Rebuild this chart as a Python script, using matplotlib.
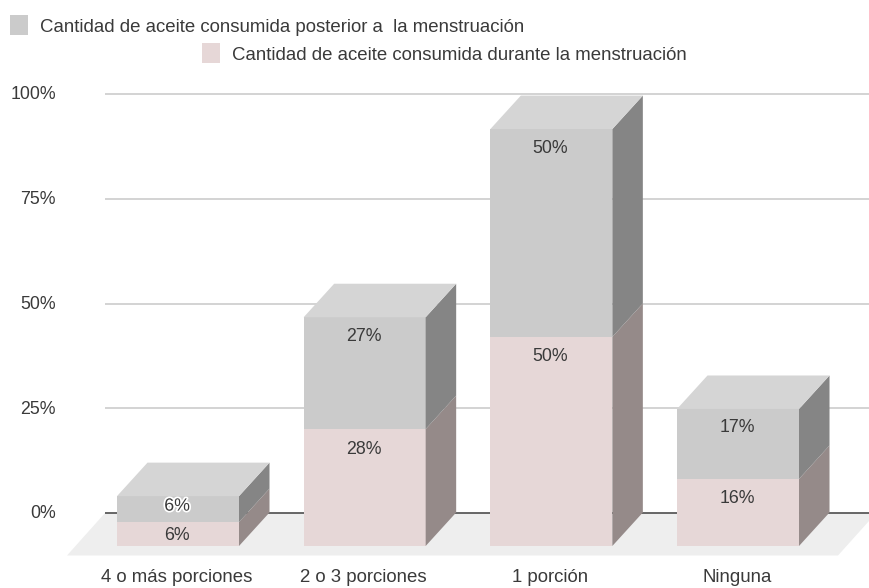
import matplotlib
matplotlib.use('Agg')
import matplotlib.pyplot as plt
import matplotlib.patheffects as pe
from matplotlib.patches import Rectangle

categorias = ['4 o más porciones', '2 o 3 porciones', '1 porción', 'Ninguna']
durante = [5.7, 27.9, 49.9, 16.0]
posterior = [6.2, 26.7, 49.6, 16.7]
ticks = [0, 25, 50, 75, 100]
leyenda_posterior = 'Cantidad de aceite consumida posterior a  la menstruación'
leyenda_durante = 'Cantidad de aceite consumida durante la menstruación'

W, H = 869, 588
PX_X = 186.67      # pixels per category
PX_Y = 4.19        # pixels per percent
X0, Y0 = 178, 546  # pixel of first category centre / front zero

ANCHO = 122 / PX_X
DX = 30.5 / PX_X
DY = 33.5 / PX_Y

GRIS = ('#cbcbcb', '#d5d5d5', '#858585')
ROSA = ('#e6d7d7', '#ecdfdf', '#958a89')
TXT = '#3a3a3a'
FS = 13.4
FS_NUM = 12.8

plt.rcParams['font.family'] = ['Liberation Sans', 'DejaVu Sans']

fig = plt.figure(figsize=(W / 100, H / 100), dpi=100)
ax = fig.add_axes([0, 0, 1, 1])
ax.set_xlim(-X0 / PX_X, (W - X0) / PX_X)
ax.set_ylim((Y0 - H) / PX_Y, Y0 / PX_Y)
ax.axis('off')


def px(x):
    return (x - X0) / PX_X


def py(y):
    return (Y0 - y) / PX_Y


# floor
ax.fill([px(67), px(105), px(W), px(W), px(838)],
        [py(555.5), py(513), py(513), py(521), py(555.5)],
        color='#eeeeee', lw=0, zorder=1)

# grid on the back wall
for t in ticks:
    ax.plot([px(105), px(W)], [t + 33 / PX_Y] * 2,
            color='#5a5a5a' if t == 0 else '#d0d0d0',
            lw=1.3, zorder=1.5, solid_capstyle='butt')
    ax.text(px(56), t + 32 / PX_Y, '%d%%' % t, ha='right', va='center',
            fontsize=FS_NUM, color=TXT)


def caja(i, base, alto, cols):
    izq, der = i - ANCHO / 2, i + ANCHO / 2
    tope = base + alto
    ax.bar(i, alto, ANCHO, bottom=base, color=cols[0], lw=0, zorder=3 + i)
    ax.fill([der, der + DX, der + DX, der], [base, base + DY, tope + DY, tope],
            color=cols[2], lw=0, zorder=3 + i)
    return izq, der, tope


for i in range(len(categorias)):
    caja(i, 0, durante[i], ROSA)
    izq, der, tope = caja(i, durante[i], posterior[i], GRIS)
    # top of the stack
    ax.fill([izq, izq + DX, der + DX, der], [tope, tope + DY, tope + DY, tope],
            color=GRIS[1], lw=0, zorder=3 + i)

    # small segments keep their label closer to the middle
    off_p = 10 / PX_Y if posterior[i] < 10 else 19 / PX_Y
    off_d = 13 / PX_Y if durante[i] < 10 else 20 / PX_Y
    t1 = ax.text(i - 0.005, tope - off_p, '%.0f%%' % posterior[i], ha='center', va='center',
                 fontsize=FS_NUM, color=TXT, zorder=10)
    if posterior[i] < 10:
        t1.set_path_effects([pe.withStroke(linewidth=2.5, foreground='white')])
    ax.text(i - 0.005, durante[i] - off_d, '%.0f%%' % durante[i], ha='center', va='center',
            fontsize=FS_NUM, color=TXT, zorder=10)
    ax.text(i - 0.005, py(577), categorias[i], ha='center', va='center',
            fontsize=FS, color=TXT)

# legend, two centred rows
ax.add_patch(Rectangle((px(10), py(35)), 18 / PX_X, 20 / PX_Y, color=GRIS[0], lw=0))
ax.text(px(40), py(27), leyenda_posterior, ha='left', va='center', fontsize=FS, color=TXT)
ax.add_patch(Rectangle((px(202), py(63)), 18 / PX_X, 20 / PX_Y, color=ROSA[0], lw=0))
ax.text(px(232), py(55), leyenda_durante, ha='left', va='center', fontsize=FS, color=TXT)

fig.savefig('out.png', dpi=100)
